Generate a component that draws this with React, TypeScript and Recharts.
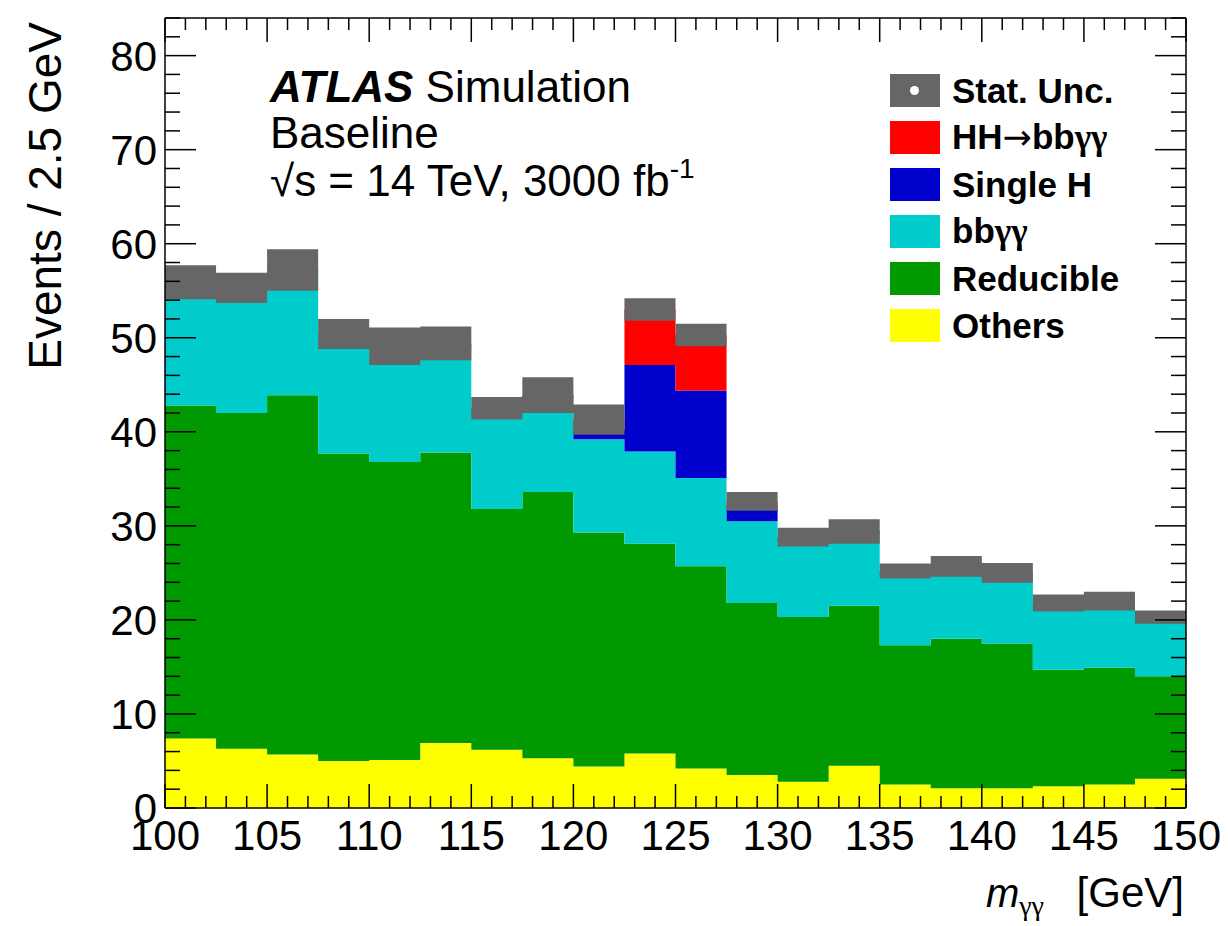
import React from "react";
import { ComposedChart, Area, Line, XAxis, YAxis, Legend } from "recharts";

const FONT = '"Liberation Sans", Arial, Helvetica, sans-serif';
const SERIF = '"Liberation Serif", "Times New Roman", serif';
const W = 1228;
const H = 926;

// lower edges of the 2.5 GeV bins
const BIN_LOW = [
  100, 102.5, 105, 107.5, 110, 112.5, 115, 117.5, 120, 122.5,
  125, 127.5, 130, 132.5, 135, 137.5, 140, 142.5, 145, 147.5,
];
const X_MAX = 150;
const Y_MAX = 84;

const OTHERS = [7.4, 6.3, 5.7, 5.0, 5.1, 6.9, 6.2, 5.3, 4.4, 5.8, 4.2, 3.5, 2.8, 4.5, 2.5, 2.1, 2.1, 2.3, 2.5, 3.1];
const REDUCIBLE = [35.4, 35.7, 38.2, 32.7, 31.7, 30.9, 25.6, 28.3, 24.9, 22.3, 21.5, 18.3, 17.5, 17.0, 14.8, 15.9, 15.4, 12.4, 12.4, 10.9];
const BBYY = [13.0, 13.2, 13.2, 12.6, 12.2, 11.4, 10.5, 9.9, 9.9, 9.8, 9.4, 8.7, 8.1, 7.7, 7.8, 7.6, 7.4, 7.0, 7.0, 6.2];
const SINGLE_H = [0.1, 0.1, 0.1, 0.1, 0.1, 0.2, 0.2, 0.3, 1.0, 9.2, 9.3, 1.5, 0.3, 0.2, 0.1, 0.1, 0.1, 0.1, 0.1, 0.1];
const HH = [0, 0, 0, 0, 0, 0, 0, 0.1, 1.1, 5.9, 5.9, 0.6, 0.1, 0, 0, 0, 0, 0, 0, 0];
const STAT_UNC = [1.8, 1.6, 2.2, 1.6, 2.0, 1.8, 1.2, 1.9, 1.6, 1.2, 1.2, 1.0, 1.0, 1.3, 0.8, 1.1, 1.05, 0.9, 1.0, 0.7];

const X_LABELS = [100, 105, 110, 115, 120, 125, 130, 135, 140, 145, 150];
const Y_LABELS = [0, 10, 20, 30, 40, 50, 60, 70, 80];
const X_TICKS = Array.from({ length: 51 }, (_, i) => 100 + i);
const Y_TICKS = Array.from({ length: 43 }, (_, i) => i * 2);

const COLORS = {
  others: "#ffff00",
  reducible: "#009900",
  bbyy: "#00cccc",
  singleH: "#0000cc",
  hh: "#ff0000",
  unc: "#666666",
};

const Gam = () => <span style={{ fontFamily: SERIF }}>{"\u03b3\u03b3"}</span>;

const LEGEND = [
  { key: "unc", label: <>Stat. Unc.</>, color: COLORS.unc, dot: true },
  {
    key: "hh",
    label: (
      <>
        HH<span style={{ fontFamily: '"DejaVu Sans", sans-serif', fontWeight: "normal" }}>{"\u2192"}</span>bb<Gam />
      </>
    ),
    color: COLORS.hh,
  },
  { key: "sh", label: <>Single H</>, color: COLORS.singleH },
  { key: "bbyy", label: <>bb<Gam /></>, color: COLORS.bbyy },
  { key: "red", label: <>Reducible</>, color: COLORS.reducible },
  { key: "oth", label: <>Others</>, color: COLORS.others },
];

const rows: any[] = BIN_LOW.map((x, i) => {
  const total = OTHERS[i] + REDUCIBLE[i] + BBYY[i] + SINGLE_H[i] + HH[i];
  return {
    x,
    others: OTHERS[i],
    reducible: REDUCIBLE[i],
    bbyy: BBYY[i],
    singleH: SINGLE_H[i],
    hh: HH[i],
    band: [total - STAT_UNC[i], total + STAT_UNC[i]],
  };
});
// closing point so the last step reaches 150
rows.push({ ...rows[rows.length - 1], x: X_MAX });

const makeXTick = (side: "bottom" | "top") => (props: any) => {
  const { x, y, payload } = props;
  const v = payload.value;
  const major = v % 5 === 0;
  const len = major ? 24 : 12;
  const dir = side === "bottom" ? -1 : 1;
  return (
    <g>
      <line x1={x} x2={x} y1={y} y2={y + dir * len} stroke="#000" strokeWidth={1.5} />
      {side === "bottom" && X_LABELS.includes(v) && (
        <text x={x} y={y + 42} textAnchor="middle" fontSize={42} fontFamily={FONT} fill="#000">
          {v}
        </text>
      )}
    </g>
  );
};

const makeYTick = (side: "left" | "right") => (props: any) => {
  const { x, y, payload } = props;
  const v = payload.value;
  const major = v % 10 === 0;
  const len = major ? 31 : 15;
  const dir = side === "left" ? 1 : -1;
  return (
    <g>
      <line x1={x} x2={x + dir * len} y1={y} y2={y} stroke="#000" strokeWidth={1.5} />
      {side === "left" && Y_LABELS.includes(v) && (
        <text x={x - 8} y={y + 15} textAnchor="end" fontSize={42} fontFamily={FONT} fill="#000">
          {v}
        </text>
      )}
    </g>
  );
};

function LegendBox() {
  return (
    <div style={{ fontFamily: FONT }}>
      {LEGEND.map((e) => (
        <div key={e.key} style={{ display: "flex", alignItems: "center", height: 47 }}>
          <div
            style={{
              width: 50,
              height: 33,
              background: e.color,
              position: "relative",
              flex: "none",
            }}
          >
            {e.dot && (
              <div
                style={{
                  position: "absolute",
                  left: 20,
                  top: 12,
                  width: 9,
                  height: 9,
                  borderRadius: "50%",
                  background: "#fff",
                }}
              />
            )}
          </div>
          <span style={{ marginLeft: 12, fontSize: 35, fontWeight: "bold", color: "#000", whiteSpace: "nowrap" }}>
            {e.label}
          </span>
        </div>
      ))}
    </div>
  );
}

export default function App() {
  return (
    <div style={{ position: "absolute", left: 0, top: 0, width: W, height: H, background: "#fff" }}>
      <ComposedChart
        width={W}
        height={H}
        data={rows}
        margin={{ top: 8, right: 12, bottom: 18, left: 15 }}
      >
        <XAxis
          xAxisId="b"
          dataKey="x"
          type="number"
          domain={[100, X_MAX]}
          allowDataOverflow
          ticks={X_TICKS}
          interval={0}
          height={100}
          tickSize={0}
          tickMargin={0}
          tickLine={false}
          axisLine={{ stroke: "#000", strokeWidth: 1.5 }}
          tick={makeXTick("bottom")}
        />
        <XAxis
          xAxisId="t"
          orientation="top"
          dataKey="x"
          type="number"
          domain={[100, X_MAX]}
          allowDataOverflow
          ticks={X_TICKS}
          interval={0}
          height={10}
          tickSize={0}
          tickMargin={0}
          tickLine={false}
          axisLine={{ stroke: "#000", strokeWidth: 1.5 }}
          tick={makeXTick("top")}
        />
        <YAxis
          yAxisId="l"
          type="number"
          domain={[0, Y_MAX]}
          allowDataOverflow
          ticks={Y_TICKS}
          interval={0}
          width={150}
          tickSize={0}
          tickMargin={0}
          tickLine={false}
          axisLine={{ stroke: "#000", strokeWidth: 1.5 }}
          tick={makeYTick("left")}
        />
        <YAxis
          yAxisId="r"
          orientation="right"
          type="number"
          domain={[0, Y_MAX]}
          allowDataOverflow
          ticks={Y_TICKS}
          interval={0}
          width={30}
          tickSize={0}
          tickMargin={0}
          tickLine={false}
          axisLine={{ stroke: "#000", strokeWidth: 1.5 }}
          tick={makeYTick("right")}
        />
        <Area xAxisId="b" yAxisId="l" type="stepAfter" dataKey="others" stackId="mc" fill={COLORS.others} fillOpacity={1} stroke="none" dot={false} isAnimationActive={false} />
        <Area xAxisId="b" yAxisId="l" type="stepAfter" dataKey="reducible" stackId="mc" fill={COLORS.reducible} fillOpacity={1} stroke="none" dot={false} isAnimationActive={false} />
        <Area xAxisId="b" yAxisId="l" type="stepAfter" dataKey="bbyy" stackId="mc" fill={COLORS.bbyy} fillOpacity={1} stroke="none" dot={false} isAnimationActive={false} />
        <Area xAxisId="b" yAxisId="l" type="stepAfter" dataKey="singleH" stackId="mc" fill={COLORS.singleH} fillOpacity={1} stroke="none" dot={false} isAnimationActive={false} />
        <Area xAxisId="b" yAxisId="l" type="stepAfter" dataKey="hh" stackId="mc" fill={COLORS.hh} fillOpacity={1} stroke="none" dot={false} isAnimationActive={false} />
        <Area xAxisId="b" yAxisId="l" type="stepAfter" dataKey="band" fill={COLORS.unc} fillOpacity={1} stroke="none" dot={false} isAnimationActive={false} />
        {/* keeps the mirrored top/right axes alive */}
        <Line xAxisId="t" yAxisId="r" dataKey="others" stroke="none" dot={false} activeDot={false} isAnimationActive={false} />
        <Legend
          layout="vertical"
          align="center"
          verticalAlign="middle"
          wrapperStyle={{ left: 890, top: 67, width: "auto" }}
          content={() => <LegendBox />}
        />
      </ComposedChart>
      <svg
        width={W}
        height={H}
        style={{ position: "absolute", left: 0, top: 0, pointerEvents: "none" }}
        fontFamily={FONT}
      >
        <text x={270} y={102} fontSize={44} fill="#000">
          <tspan fontWeight="bold" fontStyle="italic">ATLAS</tspan>
          <tspan> Simulation</tspan>
        </text>
        <text x={270} y={148} fontSize={44} fill="#000">Baseline</text>
        <text x={270} y={196} fontSize={44} fill="#000">
          {"\u221as = 14 TeV, 3000 fb"}
          <tspan fontSize={28} dy={-18}>-1</tspan>
        </text>
        <text
          x={61}
          y={22}
          fontSize={46}
          textAnchor="end"
          transform="rotate(-90 61 22)"
          fill="#000"
        >
          Events / 2.5 GeV
        </text>
        <text x={1044} y={907} fontSize={40} textAnchor="end" fill="#000">
          <tspan fontStyle="italic">m</tspan>
          <tspan fontSize={28} dy={8} fontFamily={SERIF}>{"\u03b3\u03b3"}</tspan>
        </text>
        <text x={1184} y={907} fontSize={42} textAnchor="end" fill="#000">
          [GeV]
        </text>
      </svg>
    </div>
  );
}
